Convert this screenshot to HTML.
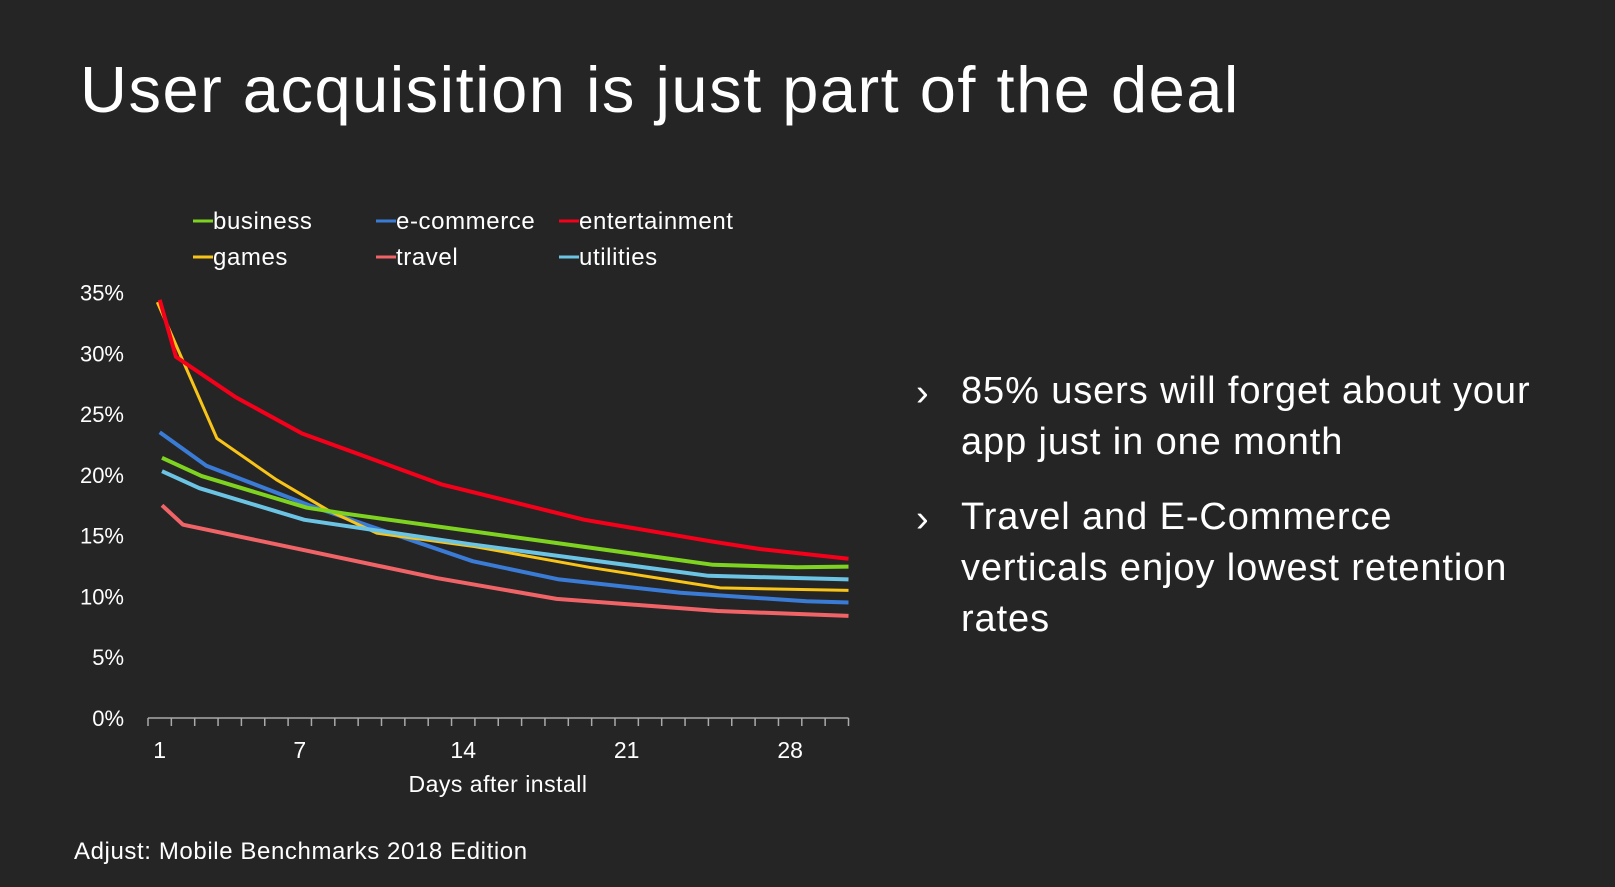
<!DOCTYPE html>
<html><head><meta charset="utf-8">
<style>
html,body{margin:0;padding:0;background:#252525;}
body{width:1615px;height:887px;position:relative;overflow:hidden;font-family:"Liberation Sans",sans-serif;color:#fff;}
.t{position:absolute;white-space:nowrap;}
</style></head><body>
<div class="t" style="left:80px;top:52px;font-size:65px;letter-spacing:1.5px;">User acquisition is just part of the deal</div>
<svg id="chart" width="1615" height="887" style="position:absolute;left:0;top:0;"></svg>
<div class="t" style="left:916px;top:368px;font-size:38px;line-height:51px;">›</div>
<div class="t" style="left:961px;top:366px;font-size:38px;line-height:51px;letter-spacing:0.9px;">85% users will forget about your<br>app just in one month</div>
<div class="t" style="left:916px;top:494px;font-size:38px;line-height:51px;">›</div>
<div class="t" style="left:961px;top:492px;font-size:38px;line-height:51px;letter-spacing:0.9px;">Travel and E-Commerce<br>verticals enjoy lowest retention<br>rates</div>
<div class="t" style="left:74px;top:838px;font-size:24px;letter-spacing:0.6px;">Adjust: Mobile Benchmarks 2018 Edition</div>
<script>
const seriesNames=["business","e-commerce","entertainment","games","travel","utilities"];
const seriesColors=["#7ed321","#3a7bd5","#f5001a","#f8c418","#f06468","#6cc4e4"];
const businessDays=[1.1,2.8,7.3,9,24.7,28.3,30.5];
const businessVals=[21.4,19.9,17.3,16.8,12.6,12.4,12.45];
const ecommerceDays=[1,3,7.4,14.4,18.1,23.3,28.7,30.5];
const ecommerceVals=[23.5,20.75,17.5,12.9,11.4,10.3,9.6,9.5];
const entertainmentDays=[1,1.7,4.25,7.1,13.1,19.2,24.7,26.7,30.5];
const entertainmentVals=[34.4,29.7,26.4,23.4,19.2,16.3,14.5,13.9,13.1];
const gamesDays=[0.9,3.45,6,8.2,10.3,14.5,19.4,25,30.5];
const gamesVals=[34.2,23.0,19.6,17.1,15.2,14.1,12.4,10.7,10.5];
const travelDays=[1.1,2,7.2,12.9,18,24.9,30.5];
const travelVals=[17.5,15.9,13.8,11.5,9.8,8.8,8.4];
const utilitiesDays=[1.1,2.7,7.2,14.3,24.5,30.5];
const utilitiesVals=[20.3,18.9,16.3,14.3,11.7,11.4];
const yTicks=[0,5,10,15,20,25,30,35];
const xTickLabels=[1,7,14,21,28];
const numDays=30;

const svg=document.getElementById('chart');
const NS='http://www.w3.org/2000/svg';
const x0=148,x1=848.5,yBase=718,yTop=292.5;
const band=(x1-x0)/numDays;
function xs(d){return x0+(d-0.5)*band;}
function ys(v){return yBase-(v/35)*(yBase-yTop);}
function el(tag,attrs){const e=document.createElementNS(NS,tag);for(const k in attrs)e.setAttribute(k,attrs[k]);svg.appendChild(e);return e;}

yTicks.forEach(v=>{
  const t=el('text',{x:124,y:ys(v)+8,'text-anchor':'end','font-size':22,fill:'#fff','font-family':'Liberation Sans, sans-serif'});
  t.textContent=v+'%';
  
  
});
const ax=el('line',{x1:x0,y1:yBase,x2:x1,y2:yBase,stroke:'#aaa','stroke-width':1.5});


for(let i=0;i<=numDays;i++){
  const tk=el('line',{x1:x0+i*band,y1:yBase,x2:x0+i*band,y2:yBase+8,stroke:'#aaa','stroke-width':1.5});
  
  
}
xTickLabels.forEach(d=>{
  const t=el('text',{x:xs(d),y:758,'text-anchor':'middle','font-size':23,fill:'#fff','font-family':'Liberation Sans, sans-serif'});
  t.textContent=d;
  
  
});
const xt=el('text',{x:498,y:792,'text-anchor':'middle','font-size':23,'letter-spacing':0.5,fill:'#fff','font-family':'Liberation Sans, sans-serif'});
xt.textContent='Days after install';



const allDays=[businessDays,ecommerceDays,entertainmentDays,gamesDays,travelDays,utilitiesDays];
const allVals=[businessVals,ecommerceVals,entertainmentVals,gamesVals,travelVals,utilitiesVals];
const drawOrder=[4,1,3,5,0,2];
drawOrder.forEach(i=>{
  const pts=allDays[i].map((d,j)=>xs(d).toFixed(1)+','+ys(allVals[i][j]).toFixed(1)).join(' ');
  const p=el('polyline',{points:pts,fill:'none',stroke:seriesColors[i],'stroke-width':i===3?3:4,'stroke-linejoin':'round'});
  
  
});

const legX=[193,376,559];
const legY=[221,257];
seriesNames.forEach((n,i)=>{
  const lx=legX[i%3],ly=legY[Math.floor(i/3)];
  const g=el('g',{});
  
  
  const l=document.createElementNS(NS,'line');
  l.setAttribute('x1',lx);l.setAttribute('x2',lx+20);l.setAttribute('y1',ly);l.setAttribute('y2',ly);
  l.setAttribute('stroke',seriesColors[i]);l.setAttribute('stroke-width',3);
  g.appendChild(l);
  const t=document.createElementNS(NS,'text');
  t.setAttribute('x',lx+20);t.setAttribute('y',ly+8);t.setAttribute('font-size',24);t.setAttribute('fill','#fff');
  t.setAttribute('letter-spacing','0.6');
  t.setAttribute('font-family','Liberation Sans, sans-serif');
  t.textContent=n;
  g.appendChild(t);
});
</script>
</body></html>
